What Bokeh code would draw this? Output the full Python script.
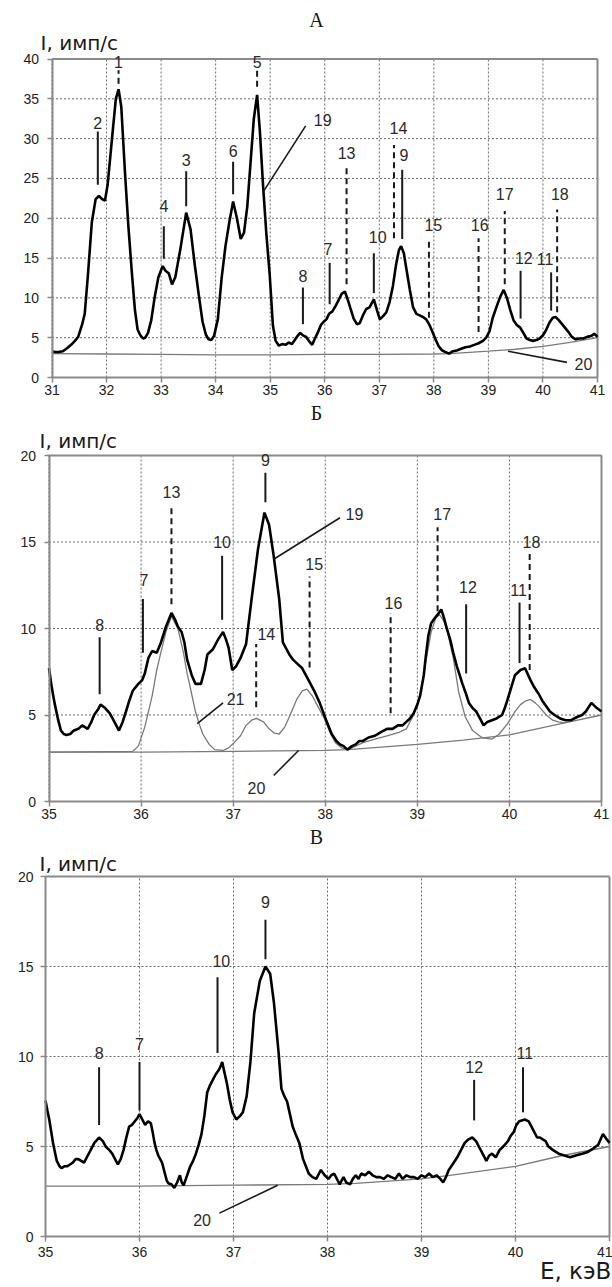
from bokeh.plotting import figure
from bokeh.layouts import column
from bokeh.models import Range1d, FixedTicker, Label, LabelSet, ColumnDataSource, LinearAxis
from bokeh.core.properties import value
from bokeh.embed import file_html
from bokeh.resources import INLINE

# ---------------- Panel A data ----------------
a_energy = [31.00, 31.05, 31.12, 31.20, 31.28, 31.35, 31.42, 31.48, 31.55, 31.60, 31.66, 31.73, 31.80, 31.86,
            31.92, 31.97, 32.02, 32.10, 32.17, 32.22, 32.27, 32.34, 32.40, 32.46, 32.52, 32.57, 32.62, 32.67,
            32.71, 32.76, 32.82, 32.88, 32.95, 33.03, 33.08, 33.14, 33.20, 33.26, 33.35, 33.46, 33.54, 33.62,
            33.69, 33.76, 33.82, 33.87, 33.92, 33.97, 34.04, 34.11, 34.18, 34.25, 34.32, 34.39, 34.46, 34.52,
            34.58, 34.64, 34.70, 34.76, 34.81, 34.87, 34.93, 34.99, 35.05, 35.10, 35.16, 35.22, 35.28, 35.34,
            35.40, 35.45, 35.50, 35.55, 35.60, 35.66, 35.72, 35.77, 35.82, 35.87, 35.93, 35.98, 36.03, 36.08,
            36.14, 36.20, 36.26, 36.31, 36.37, 36.42, 36.47, 36.53, 36.59, 36.64, 36.70, 36.76, 36.82, 36.90,
            36.96, 37.01, 37.07, 37.13, 37.19, 37.25, 37.31, 37.36, 37.40, 37.45, 37.50, 37.56, 37.62, 37.68,
            37.74, 37.80, 37.86, 37.92, 37.97, 38.03, 38.09, 38.15, 38.21, 38.28, 38.35, 38.42, 38.50, 38.58,
            38.66, 38.74, 38.82, 38.90, 38.96, 39.02, 39.08, 39.15, 39.22, 39.28, 39.34, 39.40, 39.46, 39.52,
            39.58, 39.64, 39.70, 39.76, 39.82, 39.88, 39.94, 40.00, 40.06, 40.12, 40.18, 40.23, 40.29, 40.35,
            40.41, 40.47, 40.53, 40.60, 40.67, 40.74, 40.81, 40.88, 40.94, 41.00]
a_counts = [3.3, 3.2, 3.2, 3.3, 3.7, 4.1, 4.6, 5.1, 6.6, 8.0, 13.0, 19.5, 22.4, 22.8,
            22.4, 22.2, 24.2, 30.0, 35.0, 36.2, 34.0, 25.5, 19.0, 13.5, 8.5, 6.0, 5.3, 4.9,
            5.0, 5.6, 7.2, 10.0, 12.6, 14.0, 13.4, 13.1, 11.7, 12.6, 16.0, 20.7, 18.6, 14.0,
            10.4, 7.0, 5.4, 4.8, 4.7, 5.2, 7.3, 12.5, 16.5, 19.5, 22.1, 20.0, 17.4, 18.2,
            21.5, 27.0, 32.5, 35.5, 31.0, 24.0, 18.0, 13.0, 6.5, 4.6, 4.0, 4.2, 4.1, 4.4,
            4.2, 4.7, 5.2, 5.6, 5.3, 5.1, 4.5, 4.1, 4.9, 5.6, 6.6, 7.0, 7.3, 8.0,
            8.3, 9.0, 9.8, 10.5, 10.8, 9.8, 8.7, 7.4, 6.7, 6.8, 7.8, 8.6, 8.8, 9.8,
            8.4, 7.3, 7.7, 8.2, 9.5, 11.5, 14.3, 16.0, 16.5, 15.6, 13.5, 11.0, 8.8, 8.0,
            7.8, 7.6, 7.3, 6.6, 5.8, 4.8, 3.9, 3.4, 3.2, 3.0, 3.3, 3.4, 3.6, 3.8,
            3.9, 4.1, 4.3, 4.6, 5.0, 5.8, 7.5, 8.9, 10.2, 11.0, 10.0, 8.5, 7.2, 6.6,
            6.3, 5.6, 4.9, 4.7, 4.6, 4.7, 4.9, 5.3, 6.0, 6.9, 7.5, 7.6, 7.2, 6.7,
            6.2, 5.7, 5.1, 4.8, 4.9, 4.9, 5.1, 5.2, 5.5, 5.1]
a_bg_energy = [31.0, 32.0, 33.0, 34.0, 35.0, 36.0, 37.0, 38.0, 38.3, 39.0, 39.5, 40.0, 40.5, 41.0]
a_bg_counts = [3.0, 2.95, 2.9, 2.85, 2.85, 2.9, 2.9, 2.95, 3.0, 3.3, 3.55, 3.9, 4.4, 5.0]

a_mark_text = ["1", "2", "3", "4", "5", "6", "7", "8", "9", "10", "11", "12", "13", "14", "15", "16", "17", "18"]
a_mark_x = [32.22, 31.84, 33.46, 33.05, 34.76, 34.32, 36.09, 35.60, 37.42, 36.90, 40.15, 39.59, 36.40, 37.27,
            37.91, 38.82, 39.30, 40.26]
a_mark_top = [38.6, 30.9, 25.9, 19.0, 38.6, 27.1, 14.4, 11.3, 26.1, 15.6, 13.2, 13.4, 26.5, 29.2, 17.5, 17.5, 20.9, 21.1]
a_mark_bot = [36.9, 24.2, 21.5, 14.9, 36.5, 23.0, 9.2, 6.7, 17.4, 10.6, 8.4, 7.4, 11.7, 17.5, 7.5, 5.7, 11.7, 8.2]
a_mark_dashed = [1, 0, 0, 0, 1, 0, 0, 0, 0, 0, 0, 0, 1, 1, 1, 1, 1, 1]
a_label_x = [32.22, 31.84, 33.46, 33.05, 34.76, 34.32, 36.06, 35.60, 37.45, 36.97, 40.04, 39.65, 36.40, 37.35,
             37.99, 38.84, 39.30, 40.31]
a_label_y = [39.6, 31.9, 27.3, 21.5, 39.6, 28.5, 16.1, 12.7, 27.9, 17.7, 14.9, 15.0, 28.2, 31.3, 19.2, 19.2, 23.0, 23.0]
a_lead_text = ["19", "20"]
a_lead_x0 = [34.88, 39.36]
a_lead_y0 = [23.4, 3.3]
a_lead_x1 = [35.65, 40.44]
a_lead_y1 = [31.6, 1.9]
a_lead_lx = [35.80, 40.58]
a_lead_ly = [32.3, 1.75]
a_lead_align = ["left", "left"]

# ---------------- Panel B data ----------------
b_energy = [35.00, 35.03, 35.06, 35.10, 35.13, 35.16, 35.19, 35.23, 35.27, 35.32, 35.36, 35.42, 35.46, 35.49,
            35.53, 35.56, 35.61, 35.66, 35.69, 35.72, 35.76, 35.80, 35.83, 35.87, 35.91, 35.97, 36.01, 36.04,
            36.08, 36.12, 36.17, 36.21, 36.27, 36.33, 36.37, 36.40, 36.44, 36.47, 36.50, 36.55, 36.59, 36.65,
            36.69, 36.72, 36.78, 36.84, 36.89, 36.92, 36.95, 36.99, 37.03, 37.08, 37.14, 37.20, 37.27, 37.34,
            37.39, 37.44, 37.50, 37.54, 37.58, 37.61, 37.65, 37.69, 37.75, 37.82, 37.88, 37.94, 38.01, 38.07,
            38.12, 38.16, 38.20, 38.24, 38.29, 38.33, 38.37, 38.41, 38.47, 38.54, 38.60, 38.67, 38.73, 38.79,
            38.84, 38.88, 38.92, 38.96, 39.00, 39.03, 39.07, 39.09, 39.12, 39.15, 39.19, 39.22, 39.26, 39.29,
            39.32, 39.36, 39.39, 39.43, 39.46, 39.49, 39.53, 39.56, 39.60, 39.64, 39.68, 39.72, 39.76, 39.81,
            39.86, 39.92, 39.95, 39.98, 40.02, 40.06, 40.12, 40.17, 40.23, 40.27, 40.32, 40.36, 40.40, 40.44,
            40.49, 40.55, 40.61, 40.67, 40.74, 40.79, 40.83, 40.89, 40.95, 41.00]
b_counts = [7.7, 6.6, 5.7, 4.7, 4.1, 3.9, 3.85, 3.9, 4.1, 4.2, 4.4, 4.2, 4.6, 5.0,
            5.3, 5.6, 5.4, 5.1, 4.8, 4.5, 4.1, 4.6, 5.1, 5.8, 6.4, 6.8, 7.0, 7.4,
            8.3, 8.7, 8.6, 9.1, 10.1, 10.9, 10.5, 10.1, 9.8, 9.2, 8.2, 7.3, 6.8, 6.8,
            7.6, 8.5, 8.8, 9.4, 9.8, 9.4, 8.9, 7.6, 7.8, 8.3, 9.1, 11.7, 14.6, 16.7,
            16.0, 14.2, 11.7, 9.2, 8.8, 8.5, 8.2, 8.0, 7.7, 7.0, 6.4, 5.7, 4.7, 3.9,
            3.5, 3.3, 3.2, 3.0, 3.2, 3.3, 3.5, 3.5, 3.7, 3.8, 4.0, 4.2, 4.2, 4.4,
            4.4, 4.6, 4.8, 5.1, 5.6, 6.1, 7.3, 8.3, 9.6, 10.3, 10.6, 10.8, 11.1, 10.6,
            10.0, 9.3, 8.6, 7.8, 7.3, 6.8, 6.2, 5.7, 5.4, 5.2, 4.8, 4.4, 4.6, 4.7,
            4.8, 5.0, 5.4, 5.9, 6.6, 7.3, 7.6, 7.7, 7.0, 6.6, 6.2, 5.8, 5.5, 5.2,
            5.0, 4.8, 4.7, 4.7, 4.9, 5.0, 5.2, 5.7, 5.4, 5.2]
b_fit_energy = [35.00, 35.91, 35.97, 36.04, 36.08, 36.12, 36.17, 36.21, 36.27, 36.33, 36.40, 36.46, 36.50, 36.55,
                36.59, 36.63, 36.67, 36.74, 36.80, 36.89, 36.95, 37.01, 37.08, 37.14, 37.20, 37.25, 37.33, 37.39,
                37.45, 37.50, 37.56, 37.61, 37.69, 37.75, 37.80, 37.86, 37.92, 37.99, 38.05, 38.11, 38.18, 38.24,
                38.33, 38.41, 38.54, 38.67, 38.80, 38.88, 38.96, 39.03, 39.09, 39.15, 39.20, 39.24, 39.28, 39.32,
                39.39, 39.45, 39.52, 39.60, 39.70, 39.81, 39.89, 39.98, 40.06, 40.12, 40.17, 40.23, 40.28, 40.32,
                40.40, 40.47, 40.53, 40.61]
b_fit_counts = [2.85, 2.9, 3.2, 4.3, 5.2, 6.1, 7.6, 8.5, 9.8, 10.7, 10.0, 8.6, 7.4, 6.2,
                5.2, 4.5, 3.9, 3.3, 3.0, 2.95, 3.1, 3.4, 3.8, 4.4, 4.7, 4.8, 4.6, 4.2,
                3.95, 3.9, 4.3, 4.9, 5.9, 6.4, 6.5, 6.1, 5.5, 4.8, 4.0, 3.4, 3.1, 3.0,
                3.2, 3.4, 3.6, 3.8, 4.0, 4.2, 5.0, 6.2, 8.0, 9.8, 10.6, 10.8, 10.5, 10.0,
                8.3, 6.3, 4.9, 4.1, 3.7, 3.6, 3.9, 4.5, 5.2, 5.6, 5.8, 5.9, 5.7, 5.5,
                5.0, 4.7, 4.6, 4.55]
b_bg_energy = [35.0, 36.0, 37.0, 38.0, 38.25, 39.0, 39.5, 40.0, 40.3, 40.6, 41.0]
b_bg_counts = [2.85, 2.85, 2.9, 2.95, 3.0, 3.3, 3.55, 3.85, 4.2, 4.55, 5.0]

b_mark_text = ["7", "8", "9", "10", "11", "12", "13", "14", "15", "16", "17", "18"]
b_mark_x = [36.02, 35.55, 37.35, 36.88, 40.11, 39.53, 36.33, 37.25, 37.83, 38.71, 39.22, 40.22]
b_mark_top = [11.7, 9.5, 19.0, 14.2, 11.5, 11.4, 17.0, 9.1, 13.0, 10.9, 15.85, 14.3]
b_mark_bot = [8.6, 6.2, 17.3, 10.5, 8.0, 7.4, 11.4, 5.45, 7.75, 5.1, 11.0, 7.6]
b_mark_dashed = [0, 0, 0, 0, 0, 0, 1, 1, 1, 1, 1, 1]
b_label_x = [36.03, 35.55, 37.35, 36.88, 40.10, 39.55, 36.33, 37.36, 37.88, 38.74, 39.27, 40.24]
b_label_y = [12.8, 10.2, 19.75, 15.0, 12.2, 12.4, 17.9, 9.7, 13.75, 11.5, 16.6, 15.0]
b_lead_text = ["19", "21", "20"]
b_lead_x0 = [37.44, 36.61, 37.71]
b_lead_y0 = [14.0, 4.5, 2.95]
b_lead_x1 = [38.16, 36.89, 37.44]
b_lead_y1 = [16.4, 5.7, 1.5]
b_lead_lx = [38.22, 36.93, 37.35]
b_lead_ly = [16.6, 5.9, 0.8]
b_lead_align = ["left", "left", "right"]

# ---------------- Panel C data ----------------
c_energy = [35.00, 35.02, 35.04, 35.08, 35.12, 35.15, 35.17, 35.20, 35.23, 35.26, 35.29, 35.32, 35.35, 35.38,
            35.41, 35.45, 35.48, 35.52, 35.57, 35.61, 35.64, 35.68, 35.71, 35.74, 35.77, 35.80, 35.83, 35.86,
            35.89, 35.92, 35.95, 35.98, 36.00, 36.03, 36.06, 36.09, 36.12, 36.14, 36.16, 36.18, 36.20, 36.24,
            36.27, 36.29, 36.31, 36.34, 36.37, 36.40, 36.43, 36.45, 36.47, 36.50, 36.54, 36.57, 36.60, 36.63,
            36.66, 36.69, 36.72, 36.75, 36.78, 36.81, 36.85, 36.88, 36.90, 36.93, 36.96, 36.99, 37.03, 37.07,
            37.10, 37.14, 37.18, 37.22, 37.28, 37.34, 37.39, 37.43, 37.48, 37.51, 37.54, 37.57, 37.60, 37.63,
            37.66, 37.70, 37.74, 37.77, 37.80, 37.84, 37.88, 37.91, 37.93, 37.97, 38.01, 38.04, 38.07, 38.10,
            38.13, 38.15, 38.17, 38.20, 38.24, 38.27, 38.30, 38.33, 38.36, 38.40, 38.44, 38.48, 38.52, 38.56,
            38.60, 38.64, 38.68, 38.72, 38.76, 38.80, 38.84, 38.88, 38.92, 38.96, 39.00, 39.04, 39.08, 39.12,
            39.16, 39.20, 39.23, 39.26, 39.29, 39.33, 39.38, 39.42, 39.46, 39.50, 39.54, 39.58, 39.61, 39.65,
            39.69, 39.72, 39.75, 39.79, 39.83, 39.87, 39.92, 39.95, 39.98, 40.01, 40.04, 40.10, 40.14, 40.17,
            40.20, 40.23, 40.26, 40.29, 40.32, 40.35, 40.40, 40.46, 40.52, 40.58, 40.64, 40.71, 40.77, 40.83,
            40.88, 40.93, 40.97, 41.00]
c_counts = [7.55, 7.0, 6.5, 5.2, 4.2, 3.9, 3.8, 3.9, 3.9, 4.0, 4.1, 4.3, 4.3, 4.2,
            4.1, 4.5, 4.8, 5.2, 5.5, 5.3, 5.0, 4.8, 4.6, 4.3, 4.0, 4.3, 4.8, 5.5,
            6.1, 6.2, 6.4, 6.6, 6.8, 6.5, 6.2, 6.4, 6.3, 5.8, 5.2, 4.8, 4.5, 4.1,
            3.5, 3.1, 2.95, 2.9, 2.7, 3.0, 3.4, 3.0, 2.85, 3.3, 3.9, 4.2, 4.6, 5.1,
            5.7, 6.7, 8.0, 8.4, 8.7, 9.0, 9.3, 9.7, 9.2, 8.5, 7.6, 6.9, 6.5, 6.7,
            6.9, 7.8, 9.7, 12.4, 14.2, 15.0, 14.6, 13.0, 10.2, 8.2, 7.8, 7.5, 6.8, 6.1,
            5.7, 5.2, 4.3, 3.9, 3.5, 3.3, 3.2, 3.5, 3.7, 3.4, 3.2, 3.4, 3.5, 3.2,
            2.9, 3.1, 3.3, 3.0, 2.9, 3.2, 3.4, 3.2, 3.5, 3.4, 3.6, 3.4, 3.3, 3.3,
            3.2, 3.4, 3.3, 3.2, 3.5, 3.2, 3.4, 3.3, 3.3, 3.2, 3.4, 3.3, 3.5, 3.3,
            3.4, 3.2, 3.0, 3.3, 3.7, 4.0, 4.4, 4.8, 5.2, 5.4, 5.5, 5.3, 5.0, 4.6,
            4.2, 4.5, 4.6, 4.4, 4.8, 5.0, 5.3, 5.6, 5.8, 6.2, 6.4, 6.5, 6.4, 6.1,
            5.8, 5.5, 5.5, 5.4, 5.3, 5.0, 4.8, 4.6, 4.5, 4.4, 4.5, 4.6, 4.7, 4.9,
            5.1, 5.7, 5.4, 5.2]
c_bg_energy = [35.0, 36.0, 37.0, 38.0, 38.3, 39.0, 39.3, 40.0, 40.5, 41.0]
c_bg_counts = [2.8, 2.8, 2.85, 2.9, 2.95, 3.2, 3.4, 3.9, 4.5, 5.0]

c_mark_text = ["8", "7", "10", "9", "12", "11"]
c_mark_x = [35.57, 36.00, 36.83, 37.34, 39.56, 40.08]
c_mark_top = [9.4, 9.7, 14.4, 17.6, 8.7, 9.4]
c_mark_bot = [6.2, 7.0, 10.2, 15.4, 6.45, 6.9]
c_mark_dashed = [0, 0, 0, 0, 0, 0]
c_label_x = [35.57, 36.00, 36.87, 37.34, 39.56, 40.10]
c_label_y = [10.2, 10.7, 15.3, 18.6, 9.4, 10.2]
c_lead_text = ["20"]
c_lead_x0 = [37.47]
c_lead_y0 = [2.85]
c_lead_x1 = [36.85]
c_lead_y1 = [1.3]
c_lead_lx = [36.76]
c_lead_ly = [0.9]
c_lead_align = ["right"]

assert len(a_energy) == len(a_counts)
assert len(b_energy) == len(b_counts)
assert len(b_fit_energy) == len(b_fit_counts)
assert len(c_energy) == len(c_counts)

GRAY = "#7a7a7a"
FRAME = "#8a8a8a"
NUM_FONT = "Liberation Sans"
PAGE_W = 612


def make_panel(canvas_top, height, box, xlim, ylim, xticks, yticks, xstand, ystand):
    """box = (left, right, top, bottom) of the data frame in page pixels.
    The whole canvas is the plotting frame; axes are pinned at the data edges."""
    left, right, top, bottom = box
    x0, x1 = xlim
    y0, y1 = ylim
    sx = (right - left) / (x1 - x0)
    sy = (bottom - top) / (y1 - y0)
    xr = Range1d(x0 - left / sx, x0 + (PAGE_W - left) / sx)
    yr = Range1d(y0 - (canvas_top + height - bottom) / sy, y0 + (bottom - canvas_top) / sy)
    p = figure(width=PAGE_W, height=height, x_range=xr, y_range=yr,
               x_axis_type=None, y_axis_type=None,
               output_backend="svg", toolbar_location=None, min_border=0)
    p.outline_line_color = None
    p.background_fill_color = "white"
    p.border_fill_color = "white"
    p.xgrid.visible = False
    p.ygrid.visible = False

    # dotted grid, drawn only inside the data box
    p.segment(x0=xticks, y0=[y0] * len(xticks), x1=xticks, y1=[y1] * len(xticks),
              line_color="#6a6a6a", line_width=1, line_dash="2 2")
    p.segment(x0=[x0] * len(yticks), y0=yticks, x1=[x1] * len(yticks), y1=yticks,
              line_color="#6a6a6a", line_width=1, line_dash="2 2")
    # top and right edges of the frame
    p.segment(x0=[x0, x1], y0=[y1, y0], x1=[x1, x1], y1=[y1, y1], line_color=FRAME, line_width=2)

    xa = LinearAxis(fixed_location=y0, bounds=(x0, x1), ticker=FixedTicker(ticks=xticks))
    ya = LinearAxis(fixed_location=x0, bounds=(y0, y1), ticker=FixedTicker(ticks=yticks))
    for ax, st in ((xa, xstand), (ya, ystand)):
        ax.axis_line_color = FRAME
        ax.axis_line_width = 2
        ax.major_tick_line_color = FRAME
        ax.major_tick_line_width = 1.5
        ax.major_tick_out = 5
        ax.major_tick_in = 0
        ax.minor_tick_line_color = None
        ax.major_label_text_font = NUM_FONT
        ax.major_label_text_font_size = "14px"
        ax.major_label_text_color = "#222222"
        ax.major_label_standoff = st
    p.add_layout(xa, "below")
    p.add_layout(ya, "left")
    return p


def add_markers(p, xs, tops, bots, dashed, texts, lx, ly):
    sx = [x for x, d in zip(xs, dashed) if not d]
    st = [t for t, d in zip(tops, dashed) if not d]
    sb = [b for b, d in zip(bots, dashed) if not d]
    dx = [x for x, d in zip(xs, dashed) if d]
    dt = [t for t, d in zip(tops, dashed) if d]
    db = [b for b, d in zip(bots, dashed) if d]
    if sx:
        p.segment(x0=sx, y0=sb, x1=sx, y1=st, line_color="#1a1a1a", line_width=2)
    if dx:
        p.segment(x0=dx, y0=db, x1=dx, y1=dt, line_color="#1a1a1a", line_width=2, line_dash="6 4")
    src = ColumnDataSource(dict(x=lx, y=ly, t=texts))
    p.add_layout(LabelSet(x="x", y="y", text="t", source=src, text_font=value(NUM_FONT),
                          text_font_size=value("16px"), text_color="#2a2a2a",
                          text_align="center", text_baseline="middle"))


def add_leaders(p, x0, y0, x1, y1, texts, lx, ly, aligns):
    p.segment(x0=x0, y0=y0, x1=x1, y1=y1, line_color="#1a1a1a", line_width=1.6)
    for t, x, y, a in zip(texts, lx, ly, aligns):
        p.add_layout(Label(x=x, y=y, text=t, text_font=NUM_FONT, text_font_size="16px",
                           text_color="#2a2a2a", text_align=a, text_baseline="middle"))


def add_text(p, x, y, t, font, size, align):
    p.add_layout(Label(x=x, y=y, text=t, text_font=font, text_font_size=size,
                       text_color="#1a1a1a", text_align=align, text_baseline="middle"))


# ---------- Panel A ----------
pa = make_panel(0, 402, (51.5, 597, 58.5, 377), (31, 41), (0, 40), list(range(31, 42)),
                [0, 5, 10, 15, 20, 25, 30, 35, 40], 2, 8)
pa.line(a_bg_energy, a_bg_counts, line_color=GRAY, line_width=1.3)
pa.line(a_energy, a_counts, line_color="black", line_width=2.6)
add_markers(pa, a_mark_x, a_mark_top, a_mark_bot, a_mark_dashed, a_mark_text, a_label_x, a_label_y)
add_leaders(pa, a_lead_x0, a_lead_y0, a_lead_x1, a_lead_y1, a_lead_text, a_lead_lx, a_lead_ly, a_lead_align)
add_text(pa, 35.85, 44.85, "А", "Liberation Serif", "20px", "center")
add_text(pa, 30.79, 42.0, "I, имп/с", "DejaVu Sans", "20px", "left")

# ---------- Panel B ----------
pb = make_panel(402, 424, (48.5, 601, 455, 801), (35, 41), (0, 20), list(range(35, 42)),
                [0, 5, 10, 15, 20], 2, 8)
pb.line(b_bg_energy, b_bg_counts, line_color=GRAY, line_width=1.3)
pb.line(b_fit_energy, b_fit_counts, line_color=GRAY, line_width=1.3)
pb.line(b_energy, b_counts, line_color="black", line_width=2.6)
add_markers(pb, b_mark_x, b_mark_top, b_mark_bot, b_mark_dashed, b_mark_text, b_label_x, b_label_y)
add_leaders(pb, b_lead_x0, b_lead_y0, b_lead_x1, b_lead_y1, b_lead_text, b_lead_lx, b_lead_ly, b_lead_align)
add_text(pb, 37.905, 22.43, "Б", "Liberation Serif", "20px", "center")
add_text(pb, 34.897, 20.81, "I, имп/с", "DejaVu Sans", "20px", "left")

# ---------- Panel C ----------
pc = make_panel(826, 461, (45, 609, 876, 1236), (35, 41), (0, 20), list(range(35, 42)),
                [0, 5, 10, 15, 20], 5, 7)
pc.line(c_bg_energy, c_bg_counts, line_color=GRAY, line_width=1.3)
pc.line(c_energy, c_counts, line_color="black", line_width=2.6)
add_markers(pc, c_mark_x, c_mark_top, c_mark_bot, c_mark_dashed, c_mark_text, c_label_x, c_label_y)
add_leaders(pc, c_lead_x0, c_lead_y0, c_lead_x1, c_lead_y1, c_lead_text, c_lead_lx, c_lead_ly, c_lead_align)
add_text(pc, 37.883, 22.17, "В", "Liberation Serif", "20px", "center")
add_text(pc, 34.936, 20.72, "I,  имп/с", "DejaVu Sans", "20px", "left")
add_text(pc, 41.02, -1.89, "E, кэВ", "DejaVu Sans", "23px", "right")

layout = column(pa, pb, pc, spacing=0)
open("out.html", "w").write(file_html(layout, INLINE, title="spectra"))
